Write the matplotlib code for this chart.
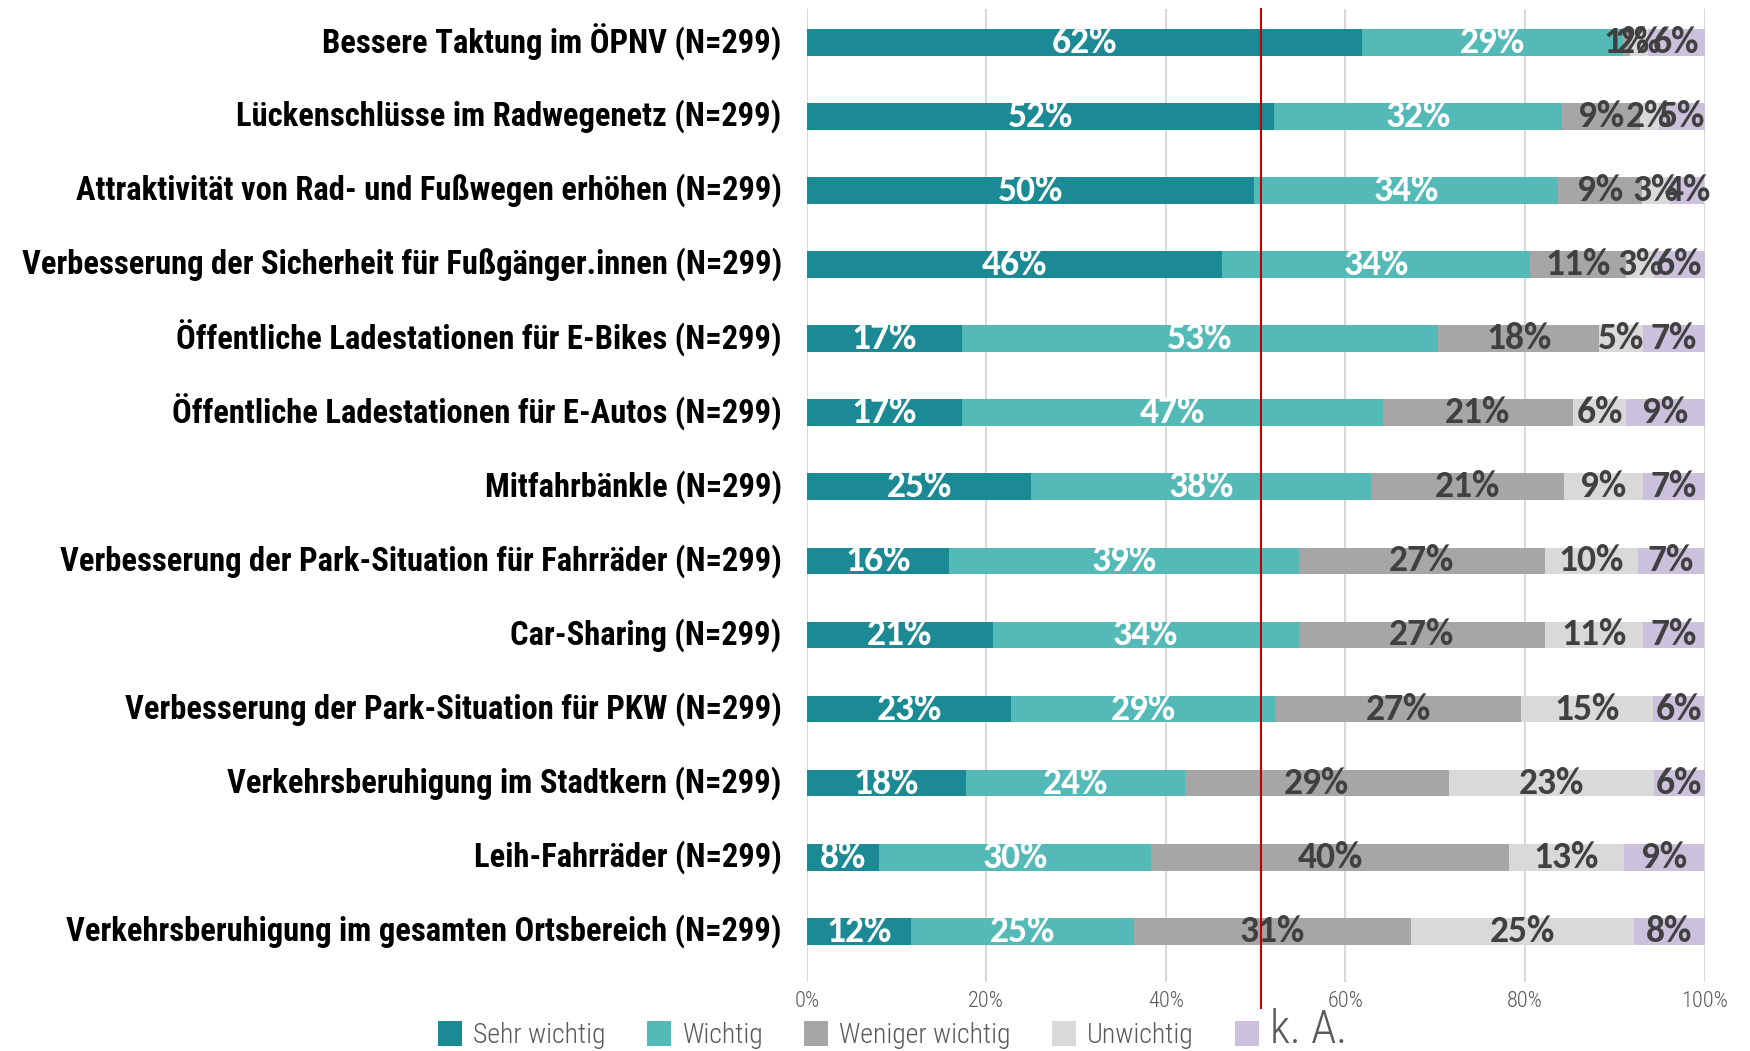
import numpy as np
import matplotlib.pyplot as plt
from matplotlib.patches import Patch

categories = [
    "Bessere Taktung im ÖPNV (N=299)",
    "Lückenschlüsse im Radwegenetz (N=299)",
    "Attraktivität von Rad- und Fußwegen erhöhen (N=299)",
    "Verbesserung der Sicherheit für Fußgänger.innen (N=299)",
    "Öffentliche Ladestationen für E-Bikes (N=299)",
    "Öffentliche Ladestationen für E-Autos (N=299)",
    "Mitfahrbänkle (N=299)",
    "Verbesserung der Park-Situation für Fahrräder (N=299)",
    "Car-Sharing (N=299)",
    "Verbesserung der Park-Situation für PKW (N=299)",
    "Verkehrsberuhigung im Stadtkern (N=299)",
    "Leih-Fahrräder (N=299)",
    "Verkehrsberuhigung im gesamten Ortsbereich (N=299)",
]
sehr_wichtig = [61.9, 52.1, 49.8, 46.2, 17.3, 17.3, 25.0, 15.9, 20.7, 22.8, 17.7, 8.0, 11.6]
wichtig = [29.0, 32.0, 33.9, 34.4, 53.0, 46.9, 37.9, 38.9, 34.1, 29.4, 24.4, 30.4, 24.8]
weniger = [0.8, 8.7, 9.3, 10.7, 18.0, 21.1, 21.4, 27.4, 27.4, 27.4, 29.4, 39.8, 30.9]
unwichtig = [2.0, 2.1, 3.2, 3.1, 4.8, 6.0, 8.8, 10.4, 11.0, 14.7, 22.9, 12.8, 24.9]
keine_angabe = [6.3, 5.1, 3.8, 5.6, 6.9, 8.7, 6.9, 7.3, 6.7, 5.6, 5.6, 8.9, 7.8]

series_names = ["Sehr wichtig", "Wichtig", "Weniger wichtig", "Unwichtig", "k. A."]
colors = ["#1C8A94", "#54BAB8", "#A6A6A6", "#D9D9D9", "#CBC1DC"]
label_colors = ["white", "white", "#404040", "#404040", "#404040"]
xticks = [0, 20, 40, 60, 80, 100]
marker_line = 50.6

cond = ["Roboto Condensed", "DejaVu Sans"]
calib = ["Carlito", "DejaVu Sans"]

fig = plt.figure(figsize=(17.5, 10.51), dpi=100)
ax = fig.add_axes([0.461, 0.066, 0.513, 0.9255])

series = [sehr_wichtig, wichtig, weniger, unwichtig, keine_angabe]
y = np.arange(len(categories))
left = np.zeros(len(categories))
for vals, col, lc in zip(series, colors, label_colors):
    vals = np.array(vals)
    ax.barh(y, vals, left=left, height=0.36, color=col, zorder=2)
    for yi, l, v in zip(y, left, vals):
        ax.text(l + v / 2, yi, "%.0f%%" % v, ha="center", va="center",
                color=lc, fontsize=27, fontweight="bold", family=calib, zorder=3)
    left += vals

ax.set_xlim(0, 100)
ax.set_ylim(len(categories) - 1 + 0.68, -0.45)
ax.set_yticks(y)
ax.set_yticklabels(categories, fontsize=23.5, fontweight="bold", family=cond,
                   color="black", va="center")
ax.set_xticks(xticks)
ax.set_xticklabels(["%d%%" % t for t in xticks], fontsize=16, color="#595959",
                   family=cond, fontweight="light")
ax.tick_params(axis="y", length=0, pad=18)
ax.tick_params(axis="x", length=0, pad=7)
ax.grid(axis="x", color="#D9D9D9", linewidth=1.5, zorder=0)
ax.set_axisbelow(True)
for s in ax.spines.values():
    s.set_visible(False)

ax.axvline(marker_line, ymin=-0.027, ymax=1.0, color="#C00000", linewidth=1.5,
           zorder=4, clip_on=False)

handles = [Patch(facecolor=c, edgecolor="none") for c in colors]
leg = fig.legend(handles, series_names, loc="center", bbox_to_anchor=(0.51, 0.02),
                 ncol=5, frameon=False, handlelength=0.85, handleheight=1.0,
                 handletextpad=0.4, columnspacing=1.5,
                 prop={"family": cond, "size": 20, "weight": "light"})
for t in leg.get_texts():
    t.set_color("#595959")
leg.get_texts()[-1].set_fontsize(33)

fig.savefig("out.png", dpi=100)
